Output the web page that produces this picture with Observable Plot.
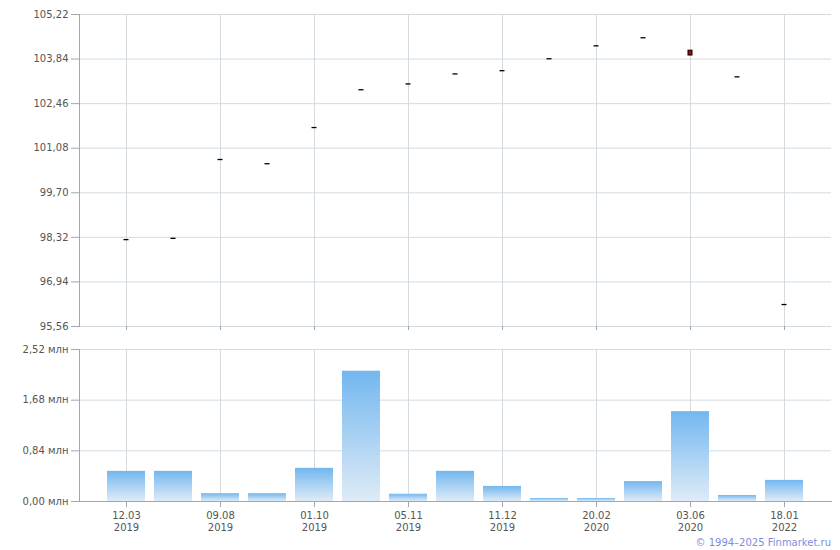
<!DOCTYPE html>
<html>
<head>
<meta charset="utf-8">
<script src="https://cdn.jsdelivr.net/npm/d3@7"></script>
<script src="https://cdn.jsdelivr.net/npm/@observablehq/plot@0.6"></script>
<style>
  body { margin: 0; background: #fff; font-family: "DejaVu Sans", Verdana, sans-serif; }
  #chart svg { display: block; }
  #copy { height: 15px; line-height: 15px; font-size: 10px; color: #7d8edb; text-align: right; padding-right: 9px; font-family: "DejaVu Sans", Verdana, sans-serif; }
</style>
</head>
<body>
<div id="chart"></div>
<div id="copy">© 1994–2025 Finmarket.ru</div>
<script>
// ---- data ----
const tickLabels = ["12.03\n2019", "", "09.08\n2019", "", "01.10\n2019", "", "05.11\n2019", "", "11.12\n2019", "", "20.02\n2020", "", "03.06\n2020", "", "18.01\n2022"];
const prices = [98.25, 98.29, 100.73, 100.60, 101.72, 102.89, 103.07, 103.38, 103.48, 103.85, 104.25, 104.50, 104.03, 103.29, 96.24];
const lastOpen = 104.10;
const lastClose = 103.95;
const volumes = [0.50, 0.50, 0.13, 0.13, 0.55, 2.16, 0.12, 0.50, 0.25, 0.05, 0.05, 0.33, 1.49, 0.10, 0.35];
const priceTicks = [95.56, 96.94, 98.32, 99.70, 101.08, 102.46, 103.84, 105.22];
const volTicks = [0, 0.84, 1.68, 2.52];

// ---- derived tables ----
const idx = d3.range(prices.length);
const labeled = idx.filter(i => tickLabels[i] !== "");
const priceData = idx.filter(i => i !== 12).map(i => ({i, v: prices[i]}));
const candle = [{i: 12, o: lastOpen, c: lastClose}];
const volData = idx.map(i => ({i, v: volumes[i]}));

const gridColor = "#d4dbe0";
const axisColor = "#a3a6b2";
const textColor = "#555";
const comma = d => d.toFixed(2).replace(".", ",");

const xBand = {type: "band", domain: idx, paddingInner: 0.19, paddingOuter: 0.595, axis: null, label: null};

const priceChart = Plot.plot({
  width: 840, height: 340,
  marginLeft: 79, marginRight: 9, marginTop: 14, marginBottom: 14,
  style: {fontFamily: "DejaVu Sans, Verdana, sans-serif", fontSize: "10px", color: textColor, background: "white"},
  x: xBand,
  y: {domain: [95.56, 105.22], axis: null, label: null},
  marks: [
    Plot.gridY(priceTicks, {stroke: gridColor, strokeOpacity: 1}),
    Plot.gridX(labeled, {stroke: gridColor, strokeOpacity: 1}),
    Plot.axisY(priceTicks, {label: null, tickSize: 8, tickPadding: 3, tickFormat: comma, stroke: axisColor, fill: textColor}),
    Plot.axisX(labeled, {label: null, anchor: "bottom", tickSize: 4, tickFormat: () => "", stroke: axisColor}),
    Plot.frame({anchor: "left", stroke: axisColor, strokeOpacity: 1}),
    Plot.tickY(priceData, {x: "i", y: "v", stroke: "#000", strokeWidth: 1.3, insetLeft: 16.5, insetRight: 16.5}),
    Plot.rectY(candle, {x: "i", y1: "o", y2: "c", fill: "#c00000", stroke: "#000", strokeWidth: 1, insetLeft: 17, insetRight: 17})
  ]
});

const volChart = Plot.plot({
  width: 840, height: 195,
  marginLeft: 79, marginRight: 9, marginTop: 9, marginBottom: 34,
  style: {fontFamily: "DejaVu Sans, Verdana, sans-serif", fontSize: "10px", color: textColor, background: "white"},
  x: xBand,
  y: {domain: [0, 2.52], axis: null, label: null},
  marks: [
    Plot.gridY(volTicks, {stroke: gridColor, strokeOpacity: 1}),
    Plot.gridX(labeled, {stroke: gridColor, strokeOpacity: 1}),
    Plot.barY(volData, {x: "i", y: "v", fill: "url(#volgrad)"}),
    Plot.axisY(volTicks, {label: null, tickSize: 8, tickPadding: 3, tickFormat: d => comma(d) + " млн", stroke: axisColor, fill: textColor}),
    Plot.axisX(labeled, {label: null, anchor: "bottom", tickSize: 6, tickPadding: 3, lineHeight: 1.2, tickFormat: i => tickLabels[i], stroke: axisColor, fill: textColor}),
    Plot.frame({anchor: "left", stroke: axisColor, strokeOpacity: 1}),
    Plot.frame({anchor: "bottom", stroke: axisColor, strokeOpacity: 1})
  ]
});

const defs = d3.select(volChart).insert("defs", ":first-child");
const g = defs.append("linearGradient").attr("id", "volgrad").attr("x1", 0).attr("y1", 0).attr("x2", 0).attr("y2", 1);
g.append("stop").attr("offset", 0).attr("stop-color", "#72b7ef");
g.append("stop").attr("offset", 1).attr("stop-color", "#dfebf7");

document.getElementById("chart").append(priceChart, volChart);
</script>
</body>
</html>
